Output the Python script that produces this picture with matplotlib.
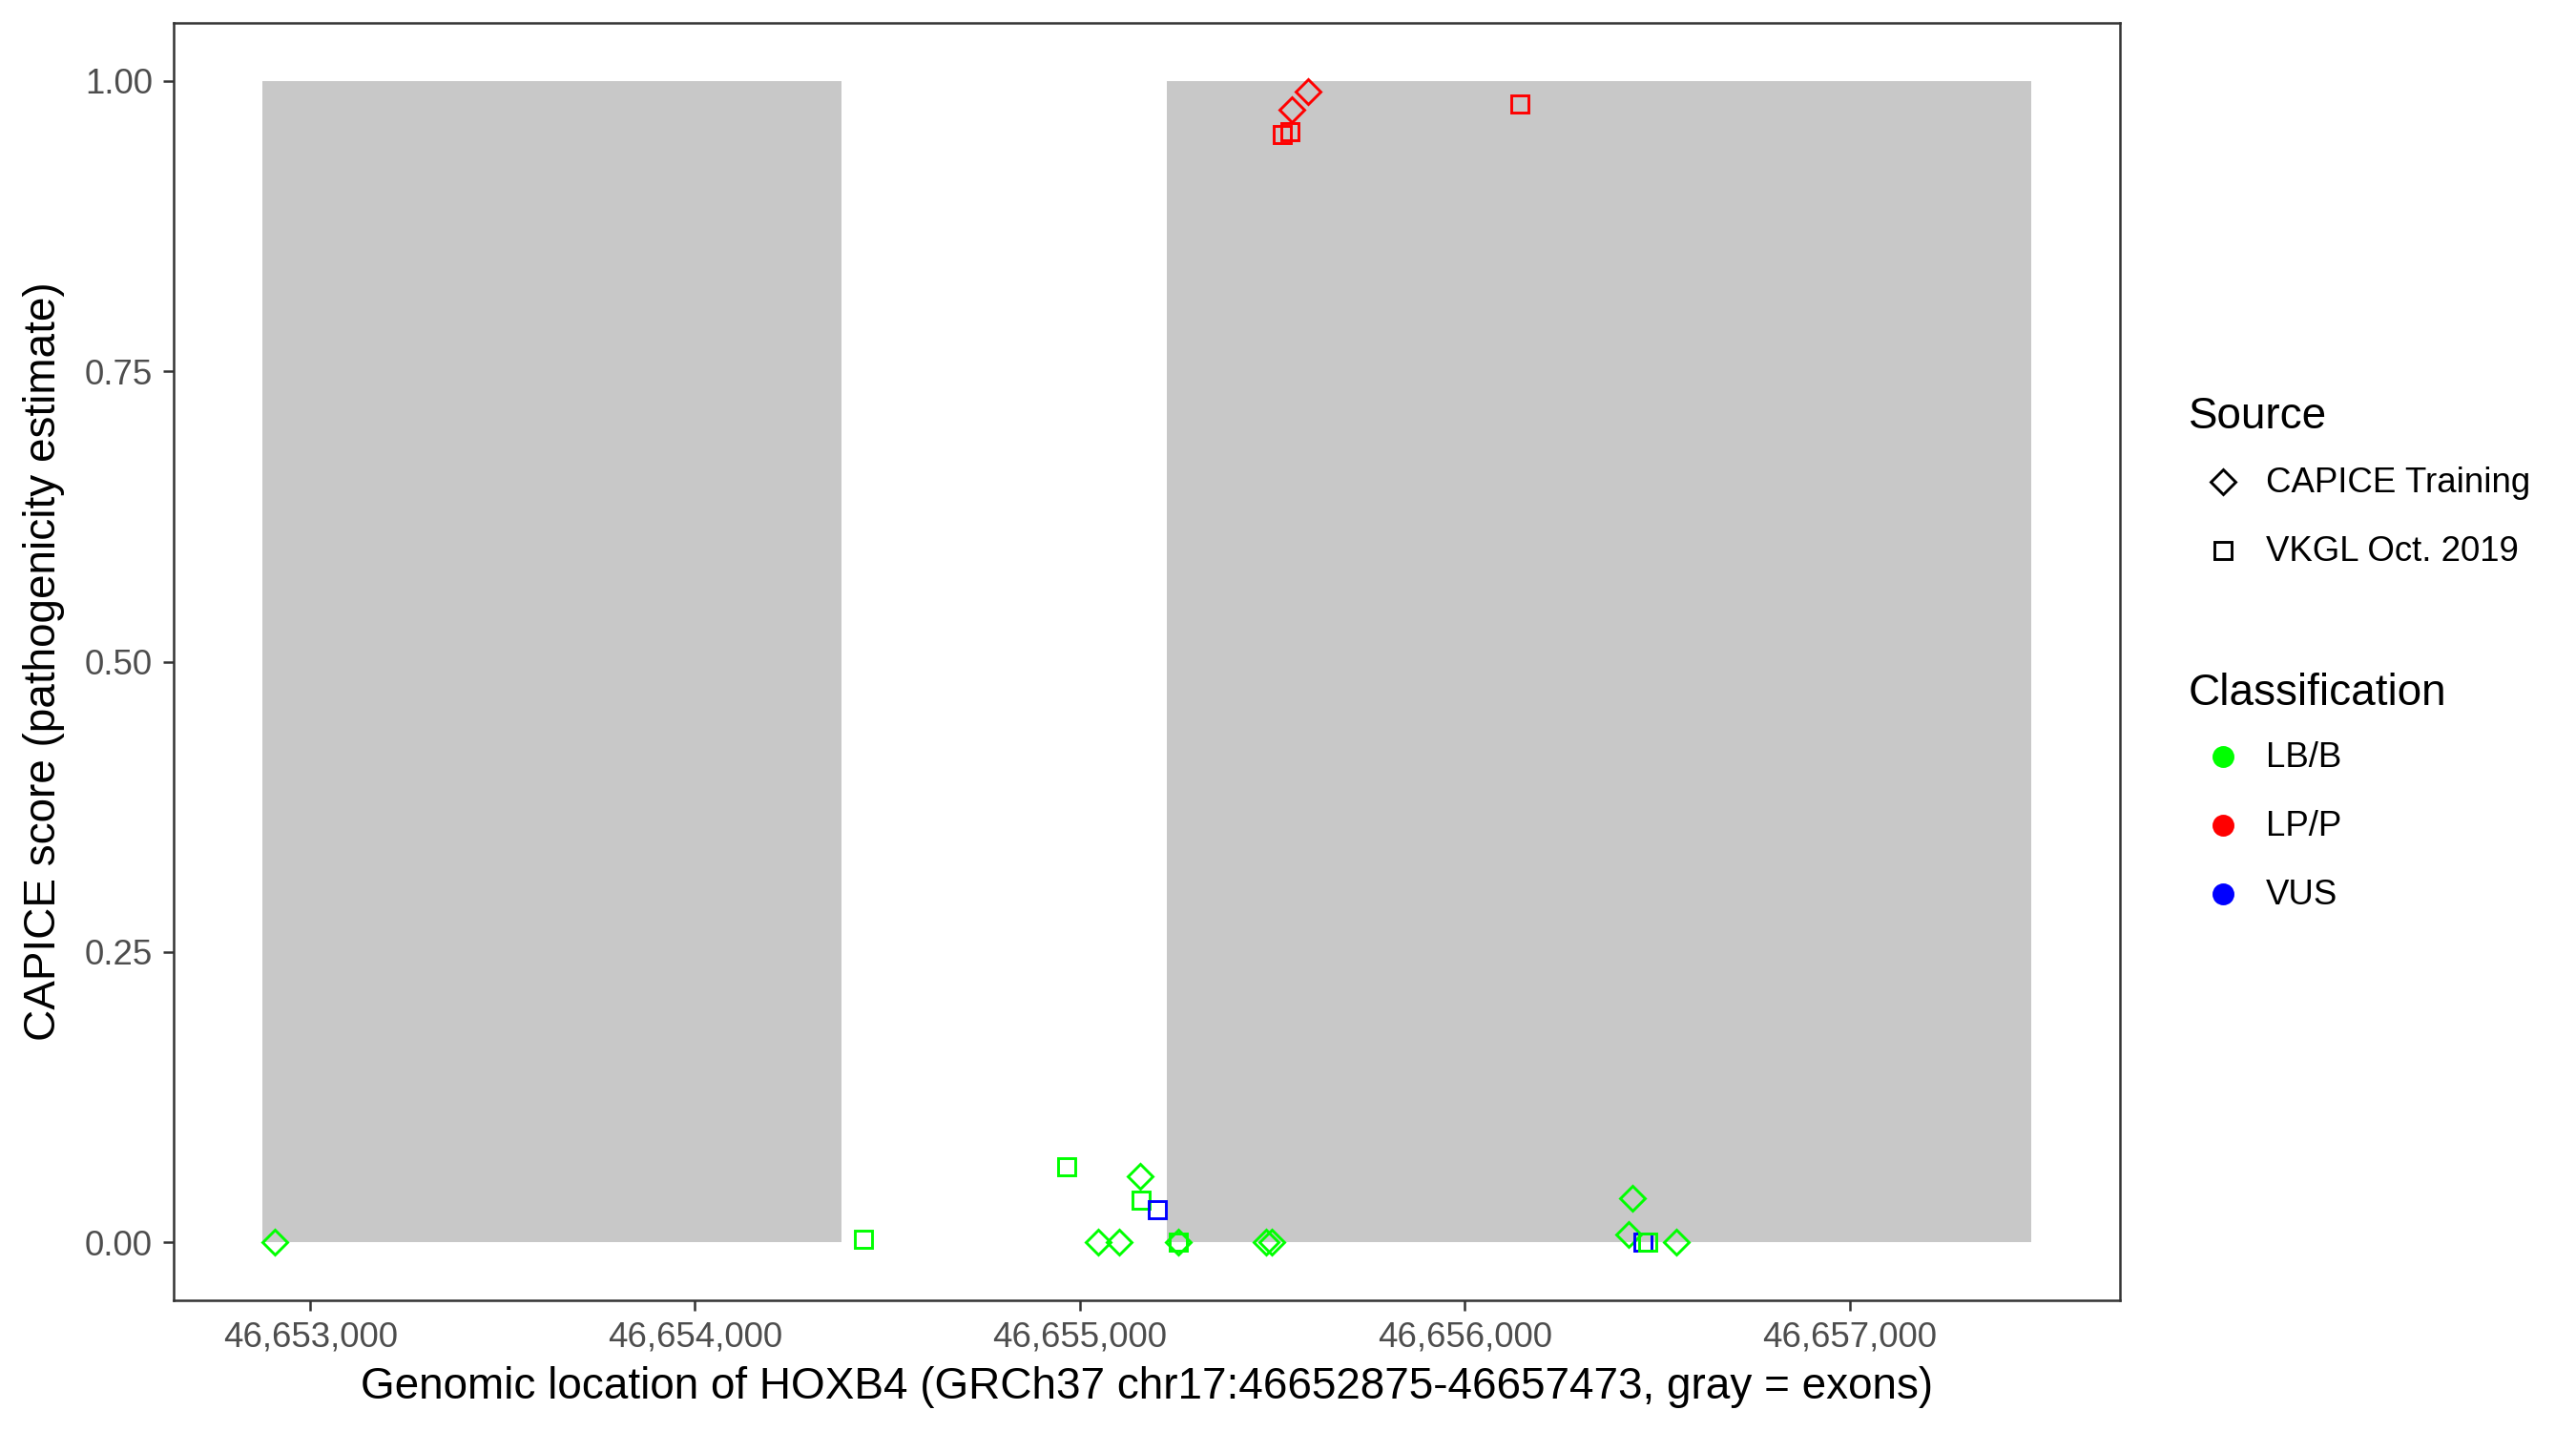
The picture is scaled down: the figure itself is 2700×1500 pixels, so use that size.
import numpy as np
import matplotlib
matplotlib.use('Agg')
import matplotlib.pyplot as plt
from matplotlib.lines import Line2D
from matplotlib.ticker import FuncFormatter

plt.rcParams['font.family'] = ['Liberation Sans', 'DejaVu Sans']

# exons (gray bars)
exon_start = [46652875, 46655225]
exon_end = [46654381, 46657473]

# CAPICE Training variants (diamonds)
capice_pos = [46652908, 46655047, 46655102, 46655156, 46655255, 46655485,
              46655498, 46656426, 46656436, 46656550, 46655550, 46655592]
capice_score = [0.000, 0.000, 0.000, 0.057, 0.000, 0.000,
                0.000, 0.007, 0.038, 0.000, 0.975, 0.991]
capice_class = ['LB/B', 'LB/B', 'LB/B', 'LB/B', 'LB/B', 'LB/B',
                'LB/B', 'LB/B', 'LB/B', 'LB/B', 'LP/P', 'LP/P']

# VKGL Oct. 2019 variants (squares)
vkgl_pos = [46654437, 46654965, 46655159, 46655201, 46655255, 46656463,
            46656475, 46655525, 46655547, 46656144]
vkgl_score = [0.003, 0.065, 0.036, 0.028, 0.000, 0.000,
              0.000, 0.954, 0.956, 0.980]
vkgl_class = ['LB/B', 'LB/B', 'LB/B', 'VUS', 'LB/B', 'VUS',
              'LB/B', 'LP/P', 'LP/P', 'LP/P']

class_names = ['LB/B', 'LP/P', 'VUS']
class_colors = {'LB/B': '#00FF00', 'LP/P': '#FF0000', 'VUS': '#0000FF'}

x_ticks = [46653000, 46654000, 46655000, 46656000, 46657000]
y_ticks = [0.0, 0.25, 0.5, 0.75, 1.0]

fig = plt.figure(figsize=(9, 5), dpi=300)
ax = fig.add_axes([0.0674, 0.0913, 0.823 - 0.0674, 0.984 - 0.0913])

# exons
for s, e in zip(exon_start, exon_end):
    ax.bar(s, 1.0, width=e - s, bottom=0, align='edge', color='#C8C8C8',
           linewidth=0, zorder=1)

ms = 4.3
mew = 0.7
for pos, score, cls, mk in [(capice_pos, capice_score, capice_class, 'D'),
                            (vkgl_pos, vkgl_score, vkgl_class, 's')]:
    for x, y, c in zip(pos, score, cls):
        ax.plot(x, y, marker=mk, ms=ms, mfc='none', mec=class_colors[c],
                mew=mew, linestyle='none', zorder=3)

span = exon_end[-1] - exon_start[0]
ax.set_xlim(exon_start[0] - 0.05 * span, exon_end[-1] + 0.05 * span)
ax.set_ylim(-0.05, 1.05)
ax.set_xticks(x_ticks)
ax.set_yticks(y_ticks)
ax.xaxis.set_major_formatter(FuncFormatter(lambda v, p: f'{int(v):,}'))
ax.yaxis.set_major_formatter(FuncFormatter(lambda v, p: f'{v:.2f}'))
ax.tick_params(axis='both', length=2.75, width=0.6, color='#333333',
               labelsize=8.8, labelcolor='#4D4D4D', pad=2.5)
for sp in ax.spines.values():
    sp.set_color('#333333')
    sp.set_linewidth(0.6)

ax.set_xlabel('Genomic location of HOXB4 (GRCh37 chr17:46652875-46657473, gray = exons)',
              fontsize=11, labelpad=3)
ax.set_ylabel('CAPICE score (pathogenicity estimate)', fontsize=11, labelpad=5)

# legends drawn by hand in figure coordinates
W, H = 2700.0, 1500.0
def fx(px):
    return px / W
def fy(py):
    return 1 - py / H

fig.text(fx(2294), fy(437), 'Source', fontsize=11, va='center', ha='left')
src_labels = ['CAPICE Training', 'VKGL Oct. 2019']
src_markers = ['D', 's']
for i, (lab, mk) in enumerate(zip(src_labels, src_markers)):
    yy = fy(505 + 72 * i)
    fig.add_artist(Line2D([fx(2330)], [yy], marker=mk, ms=ms, mfc='none',
                          mec='black', mew=mew, linestyle='none'))
    fig.text(fx(2375), yy - 1.5 / H, lab, fontsize=8.8, va='center', ha='left')

fig.text(fx(2294), fy(727), 'Classification', fontsize=11, va='center', ha='left')
for i, cls in enumerate(class_names):
    yy = fy(793 + 72 * i)
    fig.add_artist(Line2D([fx(2330)], [yy], marker='o', ms=4.5,
                          mfc=class_colors[cls], mec=class_colors[cls],
                          linestyle='none'))
    fig.text(fx(2375), yy - 1.5 / H, cls, fontsize=8.8, va='center', ha='left')

fig.savefig('out.png', dpi=300, facecolor='white')
